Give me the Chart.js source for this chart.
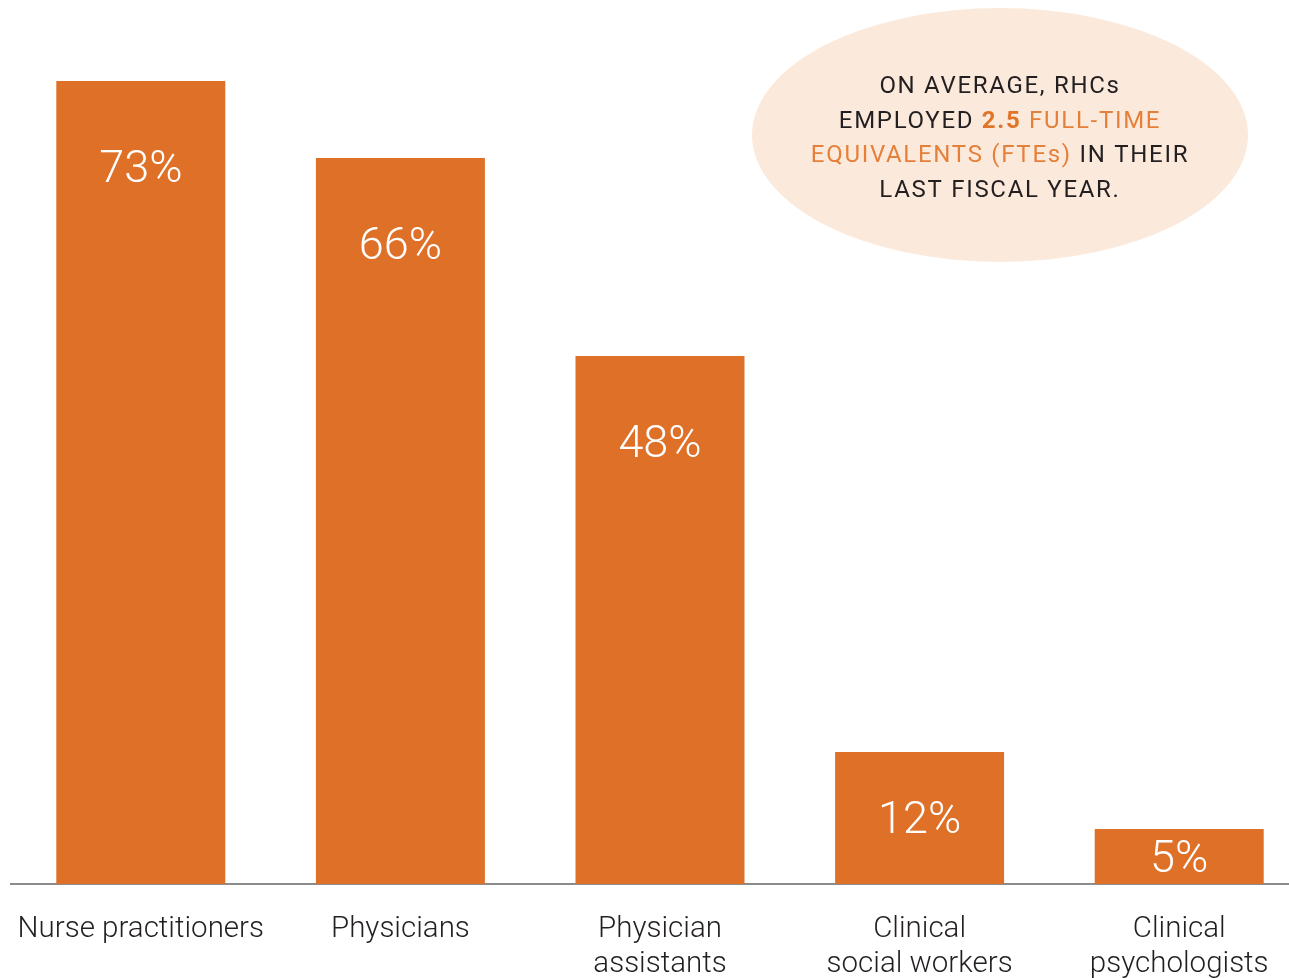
<!DOCTYPE html>
<html>
<head>
<meta charset="utf-8">
<script src="https://cdn.jsdelivr.net/npm/chart.js@4.4.1/dist/chart.umd.min.js"></script>
<style>
  html, body { margin: 0; padding: 0; background: #fff; overflow: hidden; }
  #wrap { width: 1309px; height: 978px; }
</style>
</head>
<body>
<div id="wrap"><canvas id="rhcChart" width="1309" height="978"></canvas></div>
<script>
const categories = [
  ['Nurse practitioners'],
  ['Physicians'],
  ['Physician', 'assistants'],
  ['Clinical', 'social workers'],
  ['Clinical', 'psychologists']
];
const shares = [73, 66, 48, 12, 5];

// callout text, one entry per line, each line split in [text, style] parts
const calloutLines = [
  [['ON AVERAGE, RHCs', 'dark']],
  [['EMPLOYED ', 'dark'], ['2.5', 'bold'], [' FULL-TIME', 'orange']],
  [['EQUIVALENTS (FTEs)', 'orange'], [' IN THEIR', 'dark']],
  [['LAST FISCAL YEAR.', 'dark']]
];

const barColor = '#DE7028';

// percent labels inside the bars
const barLabels = {
  id: 'barLabels',
  afterDatasetsDraw(chart) {
    const ctx = chart.ctx;
    const meta = chart.getDatasetMeta(0);
    ctx.save();
    ctx.fillStyle = '#ffffff';
    ctx.font = '300 45px Roboto';
    ctx.textAlign = 'center';
    ctx.textBaseline = 'middle';
    meta.data.forEach(function (bar, i) {
      const y = Math.min(bar.y + 90, (bar.y + bar.base) / 2 + 4);
      ctx.fillText(shares[i] + '%', bar.x, y);
    });
    ctx.restore();
  }
};

// the pale ellipse with the FTE note
const callout = {
  id: 'callout',
  afterDraw(chart) {
    const ctx = chart.ctx;
    const cx = 1000, cy = 135;
    ctx.save();
    ctx.beginPath();
    ctx.ellipse(cx, cy, 248, 127, 0, 0, Math.PI * 2);
    ctx.fillStyle = '#FBEADC';
    ctx.fill();

    ctx.textBaseline = 'middle';
    ctx.textAlign = 'left';
    ctx.letterSpacing = '1.7px';
    const fonts = {
      dark: '400 24px Roboto',
      orange: '400 24px Roboto',
      bold: '700 24px Roboto'
    };
    const colors = { dark: '#231F20', orange: '#E5803A', bold: '#E07428' };
    calloutLines.forEach(function (line, li) {
      let total = 0;
      line.forEach(function (part) {
        ctx.font = fonts[part[1]];
        total += ctx.measureText(part[0]).width;
      });
      let x = cx - total / 2;
      const y = 87 + li * 34.7;
      line.forEach(function (part) {
        ctx.font = fonts[part[1]];
        ctx.fillStyle = colors[part[1]];
        ctx.fillText(part[0], x, y);
        x += ctx.measureText(part[0]).width;
      });
    });
    ctx.restore();
  }
};

const ctx = document.getElementById('rhcChart').getContext('2d');
new Chart(ctx, {
  type: 'bar',
  data: {
    labels: categories,
    datasets: [{
      data: shares,
      backgroundColor: barColor,
      borderWidth: 0,
      barPercentage: 0.651,
      categoryPercentage: 1.0
    }]
  },
  options: {
    responsive: false,
    animation: false,
    layout: { padding: { top: 4, left: 11, right: 0, bottom: 0 } },
    plugins: {
      legend: { display: false },
      tooltip: { enabled: false }
    },
    scales: {
      x: {
        grid: { display: false, drawTicks: false },
        border: { display: true, color: '#8C8C8C', width: 2 },
        ticks: {
          color: '#231F20',
          padding: 29,
          maxRotation: 0,
          autoSkip: false,
          font: { family: 'Roboto', size: 29.5, weight: '300', lineHeight: 1.16 }
        },
        afterFit: function (scale) {
          scale.height = 94;
          // labels fit inside their columns, keep the plot edge where it is
          scale.paddingLeft = 0;
          scale.paddingRight = 0;
        }
      },
      y: {
        display: false,
        min: 0,
        max: 80
      }
    }
  },
  plugins: [barLabels, callout]
});
</script>
</body>
</html>
